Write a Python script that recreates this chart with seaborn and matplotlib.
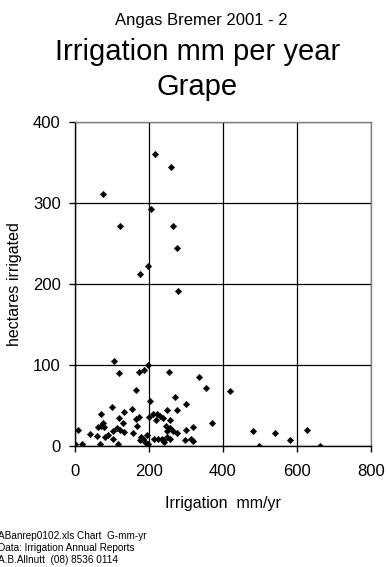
import matplotlib
matplotlib.use("Agg")
import matplotlib.pyplot as plt
import seaborn as sns
import pandas as pd

# irrigation mm/yr and hectares irrigated
irrigation_mm = [
    107, 119, 174, 186, 198, 254, 335, 354, 418, 165,
    203, 272, 301, 100, 70, 133, 155, 276, 248, 212,
    221, 230, 239, 200, 220, 257, 174, 165, 119, 130,
    76, 70, 64, 78, 169, 371, 319, 9, 113, 122,
    134, 104, 158, 247, 257, 266, 275, 300, 248, 482,
    541, 627, 41, 61, 82, 91, 103, 117, 67, 176,
    185, 196, 190, 199, 215, 226, 235, 241, 250, 258,
    299, 313, 320, 581, 0, 20, 498, 661, 239, 180,
    217, 260, 76, 206, 123, 266, 276, 197, 177, 279,
]
hectares = [
    105, 90, 91, 94, 100, 91, 85, 72, 68, 69,
    56, 60, 52, 48, 39, 42, 46, 44, 44, 40,
    39, 37, 35, 36, 32, 32, 36, 33, 35, 29,
    28, 25, 24, 23, 25, 29, 23, 20, 22, 20,
    17, 19, 16, 25, 22, 19, 16, 20, 18, 18,
    16, 20, 15, 12, 11, 13, 9, 3, 3, 7,
    9, 14, 5, 3, 9, 9, 9, 5, 11, 9,
    7, 9, 6, 7, 2, 2, 0, 0, 7, 11,
    361, 344, 311, 292, 272, 272, 244, 222, 212, 191,
]

df = pd.DataFrame({"irrigation": irrigation_mm, "hectares": hectares})

sns.set_style("white")
plt.rcParams["font.family"] = ["Liberation Sans", "DejaVu Sans"]
plt.rcParams["text.color"] = "black"
plt.rcParams["axes.labelcolor"] = "black"
plt.rcParams["xtick.color"] = "black"
plt.rcParams["ytick.color"] = "black"

fig = plt.figure(figsize=(3.87, 5.67), dpi=100)
ax = fig.add_axes([0.193, 0.2134, 0.766, 0.5716])

sns.scatterplot(data=df, x="irrigation", y="hectares", ax=ax,
                marker="D", s=11, color="black", edgecolor="black",
                linewidth=0.3, zorder=3)

ax.set_xlim(0, 800)
ax.set_ylim(0, 400)
ax.set_xticks([0, 200, 400, 600, 800])
ax.set_yticks([0, 100, 200, 300, 400])
ax.grid(True, color="black", linewidth=0.9)
ax.set_axisbelow(True)
for side in ["left", "bottom"]:
    ax.spines[side].set_color("black")
    ax.spines[side].set_linewidth(1.0)
for side in ["top", "right"]:
    ax.spines[side].set_color("#808080")
    ax.spines[side].set_linewidth(1.0)
ax.tick_params(axis="both", which="major", direction="out", length=4,
               width=1, color="black", labelsize=12)
ax.tick_params(axis="x", pad=9)
ax.tick_params(axis="y", pad=6)
ax.tick_params(bottom=True, left=True)

ax.set_xlabel("Irrigation  mm/yr", fontsize=11.5, labelpad=12)
ax.set_ylabel("hectares irrigated", fontsize=11.5, labelpad=8)

fig.text(0.521, 1 - 20 / 567, "Angas Bremer 2001 - 2", ha="center",
         va="center", fontsize=12)
fig.text(0.51, 1 - 52 / 567, "Irrigation mm per year", ha="center",
         va="center", fontsize=21)
fig.text(0.51, 1 - 87 / 567, "Grape", ha="center", va="center",
         fontsize=21)

fig.text(-0.004, 1 - 548 / 567,
         "ABanrep0102.xls Chart  G-mm-yr\nData: Irrigation Annual Reports\nA.B.Allnutt  (08) 8536 0114",
         ha="left", va="center", fontsize=7.2, linespacing=1.2)

fig.savefig("out.png", dpi=100, facecolor="white")
